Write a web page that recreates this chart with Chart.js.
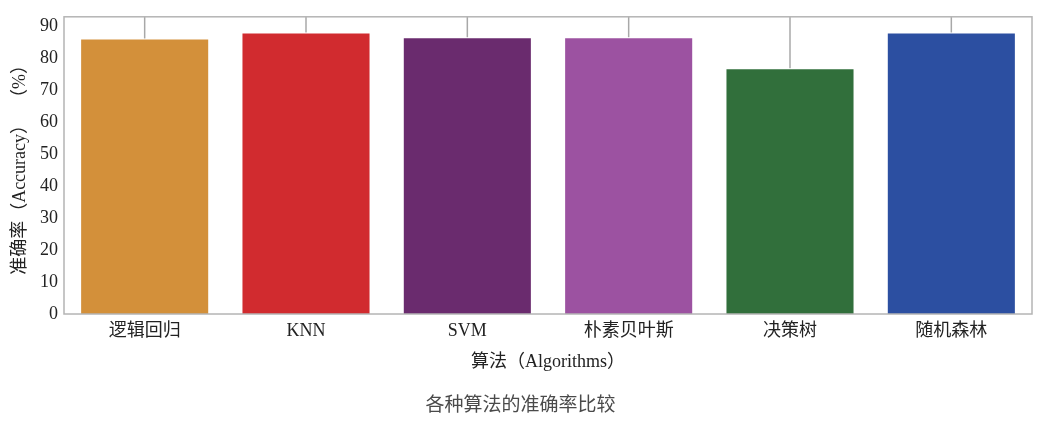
<!DOCTYPE html>
<html>
<head>
<meta charset="utf-8">
<script src="https://cdn.jsdelivr.net/npm/chart.js@4.4.1/dist/chart.umd.min.js"></script>
<style>
  html, body { margin: 0; padding: 0; background: #fff; }
  #wrap { width: 1045px; height: 429px; }
</style>
</head>
<body>
<div id="wrap"><canvas id="barChart"></canvas></div>
<script>
const algorithms = ['逻辑回归', 'KNN', 'SVM', '朴素贝叶斯', '决策树', '随机森林'];
const accuracy = [86.2, 88.1, 86.6, 86.6, 76.9, 88.1];
const errorHigh = [100, 100, 100, 100, 100, 100];
const barColors = ['#d3903a', '#d12b2f', '#6a2b6e', '#9c52a1', '#316f3b', '#2c4fa1'];
const yTicks = [0, 10, 20, 30, 40, 50, 60, 70, 80, 90];

const serif = '"Liberation Serif", "Noto Sans CJK SC", serif';

// grey error lines, drawn behind the bars and clipped to the plot box
const errorLines = {
    id: 'errorLines',
    beforeDatasetsDraw(chart) {
        const { ctx, chartArea, scales } = chart;
        const meta = chart.getDatasetMeta(0);
        ctx.save();
        ctx.beginPath();
        ctx.rect(chartArea.left, chartArea.top, chartArea.width, chartArea.height);
        ctx.clip();
        ctx.strokeStyle = '#a8a8a8';
        ctx.lineWidth = 1.5;
        meta.data.forEach((bar, i) => {
            ctx.beginPath();
            ctx.moveTo(bar.x, scales.y.getPixelForValue(accuracy[i]));
            ctx.lineTo(bar.x, scales.y.getPixelForValue(errorHigh[i]));
            ctx.stroke();
        });
        ctx.restore();
    }
};

// full frame around the plot area
const frame = {
    id: 'frame',
    afterDraw(chart) {
        const { ctx, chartArea } = chart;
        ctx.save();
        ctx.strokeStyle = '#b4b4b4';
        ctx.lineWidth = 1.5;
        ctx.strokeRect(chartArea.left, chartArea.top, chartArea.width, chartArea.height);
        ctx.restore();
    }
};

new Chart(document.getElementById('barChart'), {
    type: 'bar',
    data: {
        labels: algorithms,
        datasets: [{
            data: accuracy,
            backgroundColor: barColors,
            borderColor: 'rgba(255,255,255,0.35)',
            borderWidth: 1,
            barPercentage: 0.8,
            categoryPercentage: 1.0
        }]
    },
    options: {
        responsive: true,
        maintainAspectRatio: false,
        animation: false,
        layout: { padding: { top: 16, right: 13, bottom: 14, left: 9 } },
        plugins: {
            legend: { display: false },
            tooltip: { enabled: false },
            title: {
                display: true,
                position: 'bottom',
                text: '各种算法的准确率比较',
                color: '#4a4a4a',
                font: { family: '"Noto Sans CJK SC", serif', size: 19, weight: 'normal' },
                padding: { top: 19, bottom: 0 }
            }
        },
        scales: {
            x: {
                grid: { display: false, drawTicks: false },
                border: { display: false },
                ticks: { color: '#222', font: { family: serif, size: 18 }, padding: 6 },
                title: {
                    display: true,
                    text: '算法（Algorithms）',
                    color: '#222',
                    font: { family: serif, size: 18 },
                    padding: { top: 4, bottom: 0 }
                }
            },
            y: {
                min: 0,
                max: 93,
                afterBuildTicks(scale) {
                    scale.ticks = yTicks.map(v => ({ value: v }));
                },
                afterFit(scale) { scale.width = 55; },
                grid: { display: false, drawTicks: false },
                border: { display: false },
                ticks: { color: '#222', font: { family: serif, size: 18 }, padding: 6 },
                title: {
                    display: true,
                    text: '准确率（Accuracy）  （%）',
                    color: '#222',
                    font: { family: serif, size: 18 },
                    padding: { top: 0, bottom: 4 }
                }
            }
        }
    },
    plugins: [errorLines, frame]
});
</script>
</body>
</html>
